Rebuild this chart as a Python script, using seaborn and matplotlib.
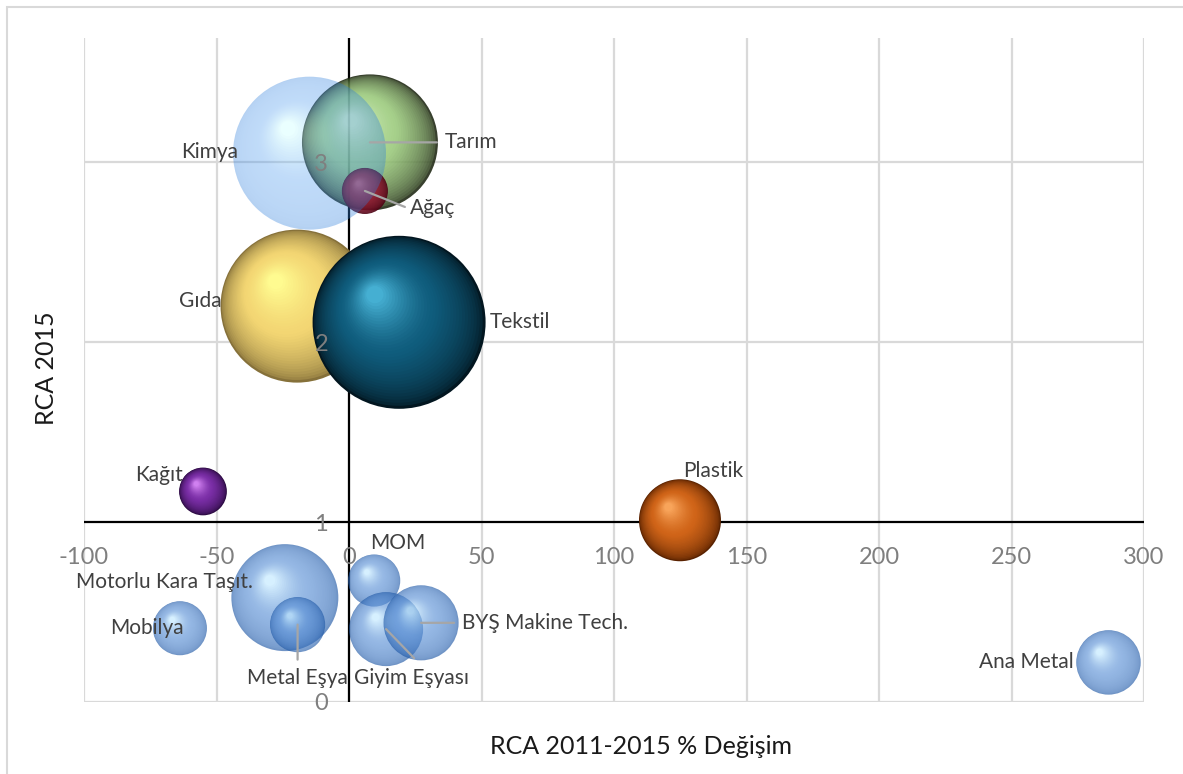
import numpy as np
import pandas as pd
import matplotlib
matplotlib.use("Agg")
import matplotlib.pyplot as plt
import seaborn as sns
from matplotlib.colors import to_rgb
from matplotlib.patches import Rectangle

# ---------------- data ----------------
sectors = ["Kimya", "Tarım", "Ağaç", "Gıda", "Tekstil", "Kağıt", "Plastik",
           "Motorlu Kara Taşıt.", "Metal Eşya", "Mobilya", "MOM",
           "Giyim Eşyası", "BYŞ Makine Tech.", "Ana Metal"]
rca_change = [-14.9, 7.9, 6.0, -19.6, 18.9, -55.1, 124.9,
              -24.2, -19.4, -63.8, 9.5, 14.0, 27.2, 286.6]
rca_2015 = [3.05, 3.11, 2.84, 2.20, 2.11, 1.17, 1.01,
            0.58, 0.43, 0.41, 0.675, 0.405, 0.44, 0.22]
bubble_size = [5.85, 4.62, 0.53, 5.85, 7.48, 0.57, 1.68,
               2.86, 0.76, 0.73, 0.68, 1.37, 1.41, 1.04]
x_ticks = [-100, -50, 0, 50, 100, 150, 200, 250, 300]
y_ticks = [0, 1, 2, 3]

df = pd.DataFrame({"sector": sectors, "x": rca_change, "y": rca_2015, "size": bubble_size})

# ---------------- styles ----------------
blue = dict(base="#5A90D6", hi="#C0E8FF", dark="#1F58A6", alpha=0.8, z=0)
style = {
    "Kimya":   dict(base="#4F9BEF", hi="#C6FFFF", dark="#2F7FDC", alpha=0.6, z=0.2),
    "Tarım":   dict(base="#98C978", hi="#D2F0B8", dark="#18220C", alpha=0.93, z=0),
    "Ağaç":    dict(base="#9A1C36", hi="#C84A66", dark="#4A0012", alpha=0.95, z=0),
    "Gıda":    dict(base="#F3D673", hi="#FFFB90", dark="#86713A", alpha=1.0, z=0),
    "Tekstil": dict(base="#0F5C7C", hi="#45AFD2", dark="#021620", alpha=1.0, z=0),
    "Kağıt":   dict(base="#7A2EA6", hi="#D080F0", dark="#2A0A40", alpha=1.0, z=0),
    "Plastik": dict(base="#D06418", hi="#F8A45A", dark="#5A2200", alpha=1.0, z=0),
}
# label placement: (dx px, dy px, ha, leader end (px) or None)
label_pos = {
    "Kimya": (-71, 1, "right", None),
    "Tarım": (75, 0, "left", (67, 0)),
    "Ağaç": (45, -17, "left", (40, -16)),
    "Gıda": (-75, 5, "right", None),
    "Tekstil": (91, 0, "left", None),
    "Kağıt": (-20, 16, "right", None),
    "Plastik": (33, 49, "center", None),
    "Motorlu Kara Taşıt.": (-32, 16, "right", None),
    "Metal Eşya": (0, -53, "center", (0, -35)),
    "Mobilya": (4, 0, "right", None),
    "MOM": (24, 38, "center", None),
    "Giyim Eşyası": (25, -49, "center", (28, -29)),
    "BYŞ Makine Tech.": (41, 0, "left", (33, 0)),
    "Ana Metal": (-35, 0, "right", None),
}

W, H, DPI = 1183, 774, 100
sns.set_theme(style="white")
plt.rcParams["font.family"] = ["Lato", "DejaVu Sans"]

fig = plt.figure(figsize=(W / DPI, H / DPI), dpi=DPI)
ax = fig.add_axes([84 / W, (H - 702) / H, 1060 / W, 664 / H])
ax.set_xlim(-100, 300)
ax.set_ylim(0, 3.69)

# gridlines (below bubbles)
for xv in x_ticks:
    ax.axvline(xv, color="#D9D9D9", lw=1.6, zorder=0.5)
for yv in y_ticks:
    if yv != 1:
        ax.axhline(yv, color="#D9D9D9", lw=1.6, zorder=0.5)
# crossing axes lines
ax.axhline(1, color="black", lw=1.6, zorder=1.5)
ax.axvline(0, color="black", lw=1.6, zorder=1.5)

fig.canvas.draw()
p0 = ax.transData.transform((0, 0))
p1 = ax.transData.transform((1, 1))
px_x, px_y = p1[0] - p0[0], p1[1] - p0[1]
pt = 72 / DPI
R_MAX_PX = 86.5
smax = max(bubble_size)


def mix(c1, c2, t):
    c1, c2 = np.array(to_rgb(c1)), np.array(to_rgb(c2))
    return c1 + (c2 - c1) * t


def alpha_filter(a):
    def f(img, dpi):
        img = img.copy()
        img[..., 3] *= a
        return img, 0, 0
    return f


N = 36
for i, row in df.iterrows():
    st = style.get(row.sector, blue)
    R = R_MAX_PX * np.sqrt(row["size"] / smax)
    t = np.linspace(0, 1, N)
    r = R * (1 - 0.9 * t)
    dxp = -0.28 * R * t
    dyp = 0.32 * R * t
    xs = row.x + dxp / px_x
    ys = row.y + dyp / px_y
    cols = []
    for tt in t:
        if tt < 0.5:
            cols.append(mix(st["dark"], st["base"], (tt / 0.5) ** 0.55))
        else:
            cols.append(mix(st["base"], st["hi"], ((tt - 0.5) / 0.5) ** 1.4))
    sizes = (2 * r * pt) ** 2
    sns.scatterplot(x=xs, y=ys, s=sizes, c=np.array(cols), linewidth=0,
                    edgecolor="none", ax=ax, legend=False,
                    zorder=3 + i * 0.01 + st["z"])
    coll = ax.collections[-1]
    if st["alpha"] < 1:
        coll.set_agg_filter(alpha_filter(st["alpha"]))
        coll.set_rasterized(True)

# labels & leader lines
for i, row in df.iterrows():
    dx, dy, ha, lead = label_pos[row.sector]
    if lead is not None:
        ax.annotate("", xy=(row.x, row.y), xytext=(lead[0] * pt, lead[1] * pt),
                    textcoords="offset points",
                    arrowprops=dict(arrowstyle="-", color="#A6A6A6", lw=1.6,
                                    shrinkA=0, shrinkB=0), zorder=19)
    ax.annotate(row.sector, xy=(row.x, row.y), xytext=(dx * pt, dy * pt),
                textcoords="offset points", ha=ha, va="center",
                fontsize=15, color="#404040", zorder=20)

# axes / ticks
for s in ["top", "right"]:
    ax.spines[s].set_visible(False)
ax.spines["left"].set_position(("data", 0))
ax.spines["bottom"].set_position(("data", 1))
ax.spines["left"].set_visible(False)
ax.spines["bottom"].set_visible(False)
ax.set_xticks(x_ticks)
ax.set_yticks(y_ticks)
ax.set_xticklabels([str(v) for v in x_ticks])
ax.set_yticklabels([str(v) for v in y_ticks])
ax.tick_params(axis="both", length=0, labelcolor="#7F7F7F", labelsize=17)
ax.tick_params(axis="x", pad=18)
ax.tick_params(axis="y", pad=15)
ax.xaxis.set_zorder(10)
ax.yaxis.set_zorder(10)
ax.set_xlabel("")
ax.set_ylabel("")
ax.grid(False)
ax.set_facecolor("white")

fig.text(46 / W, 1 - 368 / H, "RCA 2015", rotation=90, ha="center", va="center",
         fontsize=18, color="#1A1A1A")
fig.text(641 / W, 1 - 746 / H, "RCA 2011-2015 % Değişim", ha="center", va="center",
         fontsize=18, color="#1A1A1A")

# chart-area frame
fig.patches.append(Rectangle((7 / W, -0.1), 1.2, 1 - 7 / H + 0.1, transform=fig.transFigure,
                             fill=False, edgecolor="#D9D9D9", lw=1.5, zorder=0))

fig.savefig("out.png", dpi=DPI)
